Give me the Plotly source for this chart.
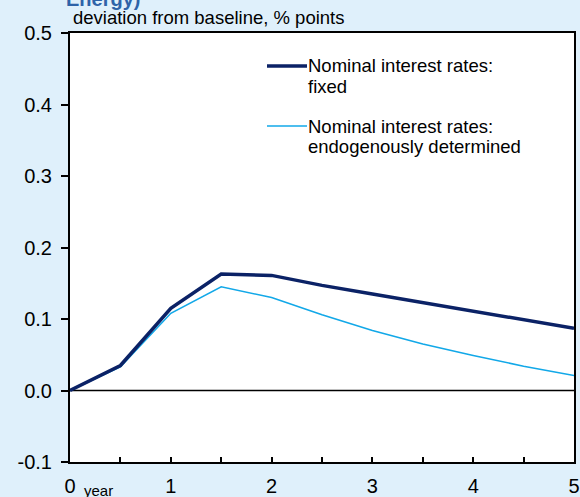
import plotly.graph_objects as go

# Data (years after shock, deviation from baseline in % points)
years = [0, 0.5, 1, 1.5, 2, 2.5, 3, 3.5, 4, 4.5, 5]
fixed = [0.0, 0.035, 0.115, 0.163, 0.161, 0.147, 0.135, 0.123, 0.111, 0.099, 0.087]
endog = [0.0, 0.033, 0.108, 0.145, 0.130, 0.106, 0.084, 0.065, 0.049, 0.034, 0.021]
y_ticks = [-0.1, 0.0, 0.1, 0.2, 0.3, 0.4, 0.5]
y_ticktext = ["-0.1", "0.0", "0.1", "0.2", "0.3", "0.4", "0.5"]
x_ticks = [0, 0.5, 1, 1.5, 2, 2.5, 3, 3.5, 4, 4.5, 5]
x_ticktext = ["0", "", "1", "", "2", "", "3", "", "4", "", "5"]
name_fixed = "Nominal interest rates:<br>fixed"
name_endog = "Nominal interest rates:<br>endogenously determined"

W, H = 580, 497
L, R, T, B = 70, 6, 33, 35
PW, PH = W - L - R, H - T - B

def px(xp):
    return (xp - L) / PW

def py(yp):
    return (H - B - yp) / PH

DARK = "#0b2266"
LIGHT = "#12a8e8"
BG = "#dff0fb"
FONT = "Liberation Sans, Arial, sans-serif"

fig = go.Figure()
fig.add_trace(go.Scatter(x=years, y=endog, mode="lines", name=name_endog,
                         line=dict(color=LIGHT, width=1.6)))
fig.add_trace(go.Scatter(x=years, y=fixed, mode="lines", name=name_fixed,
                         line=dict(color=DARK, width=3.5)))

shapes = []
annotations = []
# legend (manual)
legend_items = [(66, DARK, 3.5, ["Nominal interest rates:", "fixed"]),
                (126, LIGHT, 1.6, ["Nominal interest rates:", "endogenously determined"])]
for yl, col, w, lines in legend_items:
    shapes.append(dict(type="line", xref="paper", yref="paper",
                       x0=px(267), x1=px(307), y0=py(yl), y1=py(yl),
                       line=dict(color=col, width=w)))
    for i, t in enumerate(lines):
        annotations.append(dict(text=t, xref="paper", yref="paper",
                                x=px(306), y=py(yl + i * 20.5), xanchor="left", yanchor="middle",
                                showarrow=False, font=dict(size=18.5, color="#000", family=FONT)))

# zero line
shapes.append(dict(type="line", xref="paper", yref="y", x0=0, x1=1, y0=0, y1=0,
                   line=dict(color="#000", width=1.5), layer="below"))

annotations.append(dict(text="<b>Energy)</b>", xref="paper", yref="paper",
                        x=px(64), y=1, xanchor="left", yanchor="bottom", yshift=21,
                        showarrow=False, font=dict(size=20, color="#2e63a8", family=FONT)))
annotations.append(dict(text="deviation from baseline, % points", xref="paper", yref="paper",
                        x=px(71), y=py(18), xanchor="left", yanchor="middle",
                        showarrow=False, font=dict(size=18.5, color="#000", family=FONT)))
annotations.append(dict(text="year", xref="paper", yref="paper",
                        x=px(82), y=py(490), xanchor="left", yanchor="middle",
                        showarrow=False, font=dict(size=15, color="#000", family=FONT)))

fig.update_layout(
    template="none",
    width=W, height=H,
    margin=dict(l=L, r=R, t=T, b=B),
    paper_bgcolor=BG, plot_bgcolor="#ffffff",
    showlegend=False,
    font=dict(family=FONT, color="#000", size=20),
    shapes=shapes, annotations=annotations,
    xaxis=dict(range=[0, 5], tickvals=x_ticks, ticktext=x_ticktext, automargin=False,
               ticks="inside", ticklen=5, tickwidth=1.5, tickcolor="#000",
               ticklabelstandoff=5,
               showline=True, linecolor="#000", linewidth=2, mirror=True,
               showgrid=False, zeroline=False, tickfont=dict(size=20)),
    yaxis=dict(range=[-0.1, 0.5], tickvals=y_ticks, ticktext=y_ticktext, automargin=False,
               ticks="outside", ticklen=7, tickwidth=1.5, tickcolor="#000",
               ticklabelstandoff=5,
               showline=True, linecolor="#000", linewidth=2, mirror=True,
               showgrid=False, zeroline=False, tickfont=dict(size=20)),
)

fig.write_html("out.html", config={"displayModeBar": False},
               post_script="document.body.style.margin='0';document.body.style.overflow='hidden';"
                           "document.body.style.background='" + BG + "';")
